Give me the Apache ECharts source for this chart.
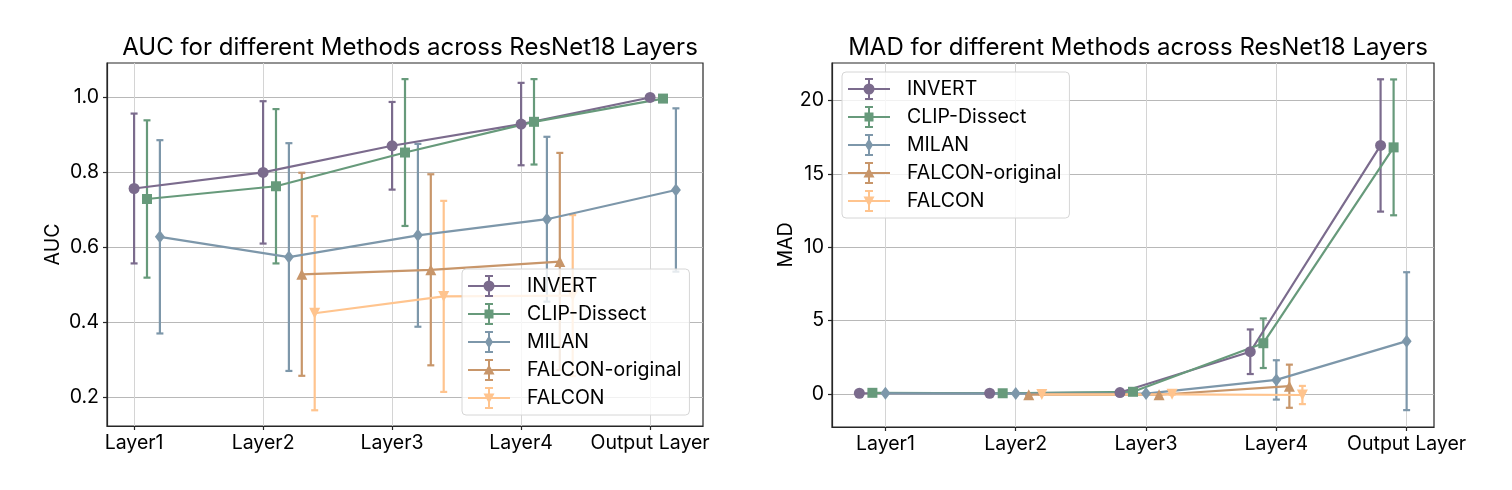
<!DOCTYPE html>
<html>
<head>
<meta charset="utf-8">
<script src="https://cdn.jsdelivr.net/npm/echarts@6/dist/echarts.min.js"></script>
<style>
html,body{margin:0;padding:0;background:#fff;}
#chart{width:1512px;height:490px;}
</style>
</head>
<body>
<div id="chart"></div>
<script>
// ---- data ----
const categories = ['Layer1', 'Layer2', 'Layer3', 'Layer4', 'Output Layer'];
const methods = ['INVERT', 'CLIP-Dissect', 'MILAN', 'FALCON-original', 'FALCON'];

// AUC mean and std
const aucInvert     = [0.756, 0.799, 0.870, 0.928, 0.999];
const aucInvertStd  = [0.200, 0.190, 0.117, 0.110, 0.003];
const aucClip       = [0.728, 0.762, 0.852, 0.934, 0.996];
const aucClipStd    = [0.210, 0.206, 0.196, 0.114, 0.003];
const aucMilan      = [0.627, 0.573, 0.631, 0.674, 0.752];
const aucMilanStd   = [0.258, 0.304, 0.244, 0.220, 0.218];
const aucFalconOrig    = [null, 0.527, 0.539, 0.561, null];
const aucFalconOrigStd = [null, 0.271, 0.255, 0.290, null];
const aucFalcon     = [null, 0.423, 0.468, 0.470, null];
const aucFalconStd  = [null, 0.259, 0.255, 0.215, null];

// MAD mean and std
const madInvert     = [0.05, 0.05, 0.10, 2.88, 16.94];
const madInvertStd  = [0.02, 0.02, 0.05, 1.52, 4.51];
const madClip       = [0.08, 0.05, 0.15, 3.46, 16.81];
const madClipStd    = [0.02, 0.02, 0.05, 1.69, 4.63];
const madMilan      = [0.05, 0.03, 0.03, 0.96, 3.60];
const madMilanStd   = [0.02, 0.02, 0.03, 1.34, 4.70];
const madFalconOrig    = [null, -0.05, -0.05, 0.53, null];
const madFalconOrigStd = [null, 0.02, 0.02, 1.47, null];
const madFalcon     = [null, -0.03, -0.02, -0.07, null];
const madFalconStd  = [null, 0.02, 0.02, 0.62, null];

const aucTicks = [0.2, 0.4, 0.6, 0.8, 1.0];
const madTicks = [0, 5, 10, 15, 20];

// ---- styling ----
const colors = ['#7b6b8d', '#679a7b', '#7d97aa', '#c8966a', '#ffc48e'];
const symbols = ['circle', 'rect', 'diamond', 'triangle', 'triangle'];
const symbolSizes = [11, 10, [10, 13], 11, 11];
const symbolRotates = [0, 0, 0, 0, 180];
const aucOffsets = [0, 0.1, 0.2, 0.3, 0.4];
const madOffsets = [-0.2, -0.1, 0, 0.1, 0.2];
const FONT = 'Inter';
const FS = 19.5;

const base = 'M0,10H42V12H0Z M20,0H22V22H20Z M17,0H25V2H17Z M17,20H25V22H17Z ';
const markerPaths = [
  'M15.5,11A5.5,5.5 0 1,1 26.5,11A5.5,5.5 0 1,1 15.5,11Z',
  'M16.5,6.5H25.5V15.5H16.5Z',
  'M21,4.5L25,11L21,17.5L17,11Z',
  'M21,5.5L26.5,15.5L15.5,15.5Z',
  'M15.5,6.5H26.5L21,16.5Z'
];
const legendIcons = markerPaths.map(p => 'path://' + base + p);

const aucMeans = [aucInvert, aucClip, aucMilan, aucFalconOrig, aucFalcon];
const aucStds = [aucInvertStd, aucClipStd, aucMilanStd, aucFalconOrigStd, aucFalconStd];
const madMeans = [madInvert, madClip, madMilan, madFalconOrig, madFalcon];
const madStds = [madInvertStd, madClipStd, madMilanStd, madFalconOrigStd, madFalconStd];

function errRender(color) {
  return function (params, api) {
    const x = api.value(0), y = api.value(1), e = api.value(2);
    const t = api.coord([x, y + e]);
    const b = api.coord([x, y - e]);
    const cw = 3.5;
    const st = { stroke: color, lineWidth: 2.2 };
    return {
      type: 'group',
      children: [
        { type: 'line', shape: { x1: t[0], y1: t[1], x2: b[0], y2: b[1] }, style: st },
        { type: 'line', shape: { x1: t[0] - cw, y1: t[1], x2: t[0] + cw, y2: t[1] }, style: st },
        { type: 'line', shape: { x1: b[0] - cw, y1: b[1], x2: b[0] + cw, y2: b[1] }, style: st }
      ]
    };
  };
}

const series = [];
function addChart(means, stds, offsets, axisIdx) {
  methods.forEach((m, i) => {
    const pts = [], errs = [];
    means[i].forEach((v, k) => {
      if (v === null) return;
      pts.push([k + offsets[i], v]);
      errs.push([k + offsets[i], v, stds[i][k]]);
    });
    series.push({
      type: 'custom', name: m + ' err', xAxisIndex: axisIdx, yAxisIndex: axisIdx,
      data: errs, renderItem: errRender(colors[i]), z: 2, silent: true,
      encode: { x: 0, y: 1 }
    });
    series.push({
      type: 'line', name: m, xAxisIndex: axisIdx, yAxisIndex: axisIdx,
      data: pts, symbol: symbols[i], symbolSize: symbolSizes[i], symbolRotate: symbolRotates[i],
      showSymbol: true, showAllSymbol: true,
      lineStyle: { color: colors[i], width: 2.2 },
      itemStyle: { color: colors[i], borderWidth: 0 },
      z: 3, silent: true
    });
  });
}
addChart(aucMeans, aucStds, aucOffsets, 0);
addChart(madMeans, madStds, madOffsets, 1);

function xAxis(gridIndex, min, max) {
  const vals = categories.map((c, i) => i);
  return {
    type: 'value', gridIndex, min, max,
    axisLine: { show: true, onZero: false, lineStyle: { color: '#262626', width: 1.2 } },
    axisTick: { show: true, length: 4, customValues: vals, lineStyle: { color: '#262626', width: 1.2 } },
    axisLabel: { customValues: vals, formatter: v => categories[Math.round(v)], fontFamily: FONT, fontSize: FS, color: '#000', margin: 7 },
    splitLine: { show: true, customValues: vals, lineStyle: { color: '#d4d4d4', width: 1 } }
  };
}
function yAxis(gridIndex, min, max, ticks, name, fmt, gap) {
  return {
    type: 'value', gridIndex, min, max, name,
    nameLocation: 'middle', nameGap: gap, nameMoveOverlap: false,
    nameTextStyle: { fontFamily: FONT, fontSize: FS, color: '#000' },
    axisLine: { show: true, onZero: false, lineStyle: { color: '#262626', width: 1.2 } },
    axisTick: { show: true, length: 4, customValues: ticks, lineStyle: { color: '#262626', width: 1.2 } },
    axisLabel: { customValues: ticks, formatter: fmt, fontFamily: FONT, fontSize: FS, color: '#000', margin: 8 },
    splitLine: { show: true, customValues: ticks, lineStyle: { color: '#b8b8b8', width: 1 } }
  };
}

function legend(left, top) {
  return {
    orient: 'vertical', left, top,
    data: methods.map((m, i) => ({ name: m, icon: legendIcons[i] })),
    itemWidth: 42, itemHeight: 22, itemGap: 6,
    padding: [6, 8, 6, 6],
    backgroundColor: 'rgba(255,255,255,0.8)',
    borderColor: '#d6d6d6', borderWidth: 1, borderRadius: 4,
    itemStyle: { borderWidth: 0 },
    selectedMode: false,
    textStyle: { fontFamily: FONT, fontSize: FS, color: '#000', padding: [0, 0, 0, 12] },
    z: 10
  };
}

const option = {
  animation: false,
  backgroundColor: '#fff',
  title: [
    { text: 'AUC for different Methods across ResNet18 Layers', left: 405, top: 31, textAlign: 'center',
      textStyle: { fontFamily: FONT, fontSize: 24, fontWeight: 'normal', color: '#000' } },
    { text: 'MAD for different Methods across ResNet18 Layers', left: 1133, top: 31, textAlign: 'center',
      textStyle: { fontFamily: FONT, fontSize: 24, fontWeight: 'normal', color: '#000' } }
  ],
  grid: [
    { left: 107, top: 63, width: 596, height: 363, show: true, borderColor: '#262626', borderWidth: 1.2, backgroundColor: 'transparent' },
    { left: 832, top: 63, width: 602, height: 364, show: true, borderColor: '#262626', borderWidth: 1.2, backgroundColor: 'transparent' }
  ],
  xAxis: [xAxis(0, -0.21, 4.41), xAxis(1, -0.41, 4.21)],
  yAxis: [
    yAxis(0, 0.122, 1.091, aucTicks, 'AUC', v => v.toFixed(1), 44),
    yAxis(1, -2.25, 22.56, madTicks, 'MAD', v => String(Math.round(v)), 36)
  ],
  legend: [legend(462, 269), legend(842, 72)],
  series
};

const chart = echarts.init(document.getElementById('chart'), null, { renderer: 'canvas' });
chart.setOption(option);
</script>
</body>
</html>
